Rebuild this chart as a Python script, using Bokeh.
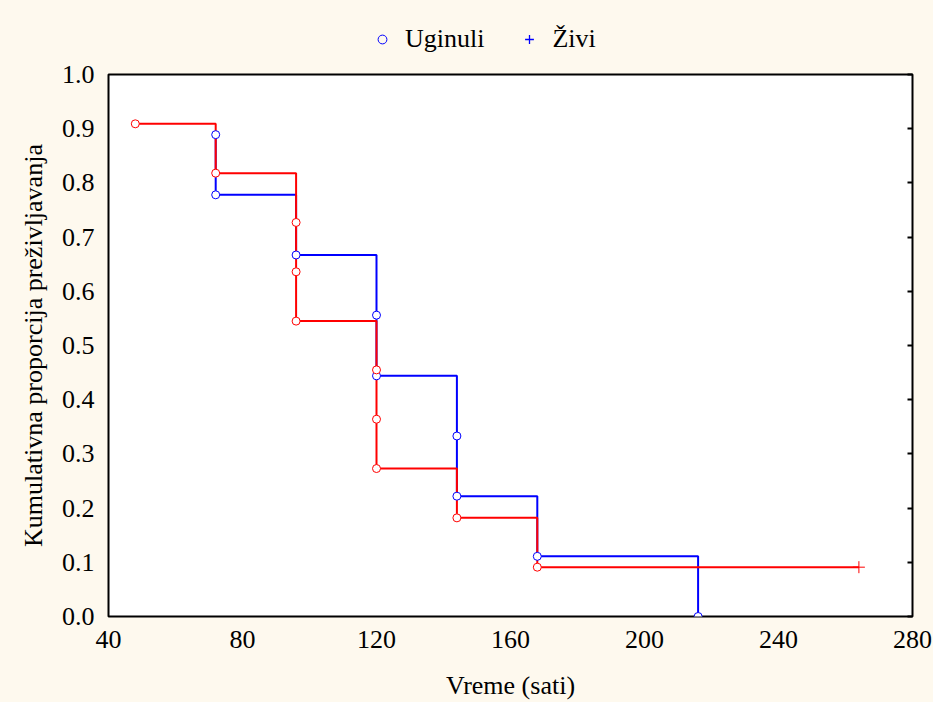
from bokeh.plotting import figure
from bokeh.layouts import column
from bokeh.models import (Legend, LegendItem, LinearAxis, FixedTicker, Range1d,
                          NumeralTickFormatter, CustomJSTickFormatter)
from bokeh.embed import file_html
from bokeh.resources import INLINE

# Data (Kaplan-Meier estimates)
blue_times = [72, 72, 96, 120, 120, 144, 144, 168, 216]
blue_surv = [0.889, 0.778, 0.667, 0.556, 0.444, 0.333, 0.222, 0.111, 0.0]
red_times = [48, 72, 96, 96, 96, 120, 120, 120, 144, 168]
red_surv = [0.909, 0.818, 0.727, 0.636, 0.545, 0.455, 0.364, 0.273, 0.182, 0.091]
red_cens_times = [264]
red_cens_surv = [0.091]
x_ticks = [40, 80, 120, 160, 200, 240, 280]
y_ticks = [0.0, 0.1, 0.2, 0.3, 0.4, 0.5, 0.6, 0.7, 0.8, 0.9, 1.0]
series_labels = ["Uginuli", "Živi"]

FONT = "Liberation Serif"
CREAM = "#FEF9EE"
BLUE = "#0000FF"
RED = "#FF0000"

W = 933
LEG_H = 58
MAIN_H = 702 - LEG_H


def step_path(times, surv, end_time=None):
    xs, ys = [times[0]], [surv[0]]
    for i in range(1, len(times)):
        if times[i] != times[i - 1]:
            xs.append(times[i])
            ys.append(surv[i - 1])
        xs.append(times[i])
        ys.append(surv[i])
    if end_time is not None:
        xs.append(end_time)
        ys.append(surv[-1])
    return xs, ys


# ---- legend strip (separate figure above the chart) ----
leg = figure(width=W, height=LEG_H, output_backend="svg", toolbar_location=None,
             x_range=Range1d(0, 1), y_range=Range1d(0, 1),
             background_fill_color=CREAM, border_fill_color=CREAM,
             min_border_left=0, min_border_right=0, min_border_top=0, min_border_bottom=0)
leg.axis.visible = False
leg.grid.visible = False
leg.outline_line_color = None
# proxies: the data lie outside this strip's ranges, so only the legend shows them
lg1 = leg.scatter(blue_times, blue_surv, marker="circle", line_color=BLUE, fill_color=None, line_width=1)
lg2 = leg.scatter(red_cens_times, red_cens_surv, marker="cross", line_color=BLUE, line_width=1.3)
legend = Legend(items=[LegendItem(label=series_labels[0], renderers=[lg1]),
                       LegendItem(label=series_labels[1], renderers=[lg2])],
                orientation="horizontal", location=(263, 4),
                background_fill_alpha=0.0, border_line_color=None,
                label_text_font=FONT, label_text_font_size="26px", label_text_color="black",
                glyph_width=22, glyph_height=22, label_standoff=12, spacing=34,
                padding=0, margin=0)
leg.add_layout(legend)

# ---- main chart ----
p = figure(width=W, height=MAIN_H, output_backend="svg", toolbar_location=None,
           x_range=Range1d(40, 280), y_range=Range1d(0, 1.0),
           background_fill_color="white", border_fill_color=CREAM,
           min_border_left=108, min_border_right=21, min_border_top=74 - LEG_H, min_border_bottom=86)
p.grid.visible = False
p.outline_line_color = "black"
p.outline_line_width = 2

bx, by = step_path(blue_times, blue_surv)
rx, ry = step_path(red_times, red_surv, red_cens_times[0])
p.line(bx, by, line_color=BLUE, line_width=2)
p.line(rx, ry, line_color=RED, line_width=2)
p.scatter(blue_times, blue_surv, marker="circle", size=8, line_color=BLUE, fill_color="white", line_width=1)
p.scatter(red_times, red_surv, marker="circle", size=8, line_color=RED, fill_color="white", line_width=1)
p.scatter(red_cens_times, red_cens_surv, marker="cross", size=12, line_color=RED, line_width=1)

for ax in (p.xaxis[0], p.yaxis[0]):
    ax.axis_line_color = None
    ax.major_tick_line_color = None
    ax.minor_tick_line_color = None
    ax.major_label_text_font = FONT
    ax.major_label_text_font_size = "26px"
    ax.major_label_text_color = "black"
    ax.axis_label_text_font = FONT
    ax.axis_label_text_font_size = "26px"
    ax.axis_label_text_font_style = "normal"
    ax.axis_label_text_color = "black"

p.xaxis[0].ticker = FixedTicker(ticks=x_ticks)
p.yaxis[0].ticker = FixedTicker(ticks=y_ticks)
p.yaxis[0].formatter = NumeralTickFormatter(format="0.0")
p.xaxis[0].axis_label = "Vreme (sati)"
p.yaxis[0].axis_label = "Kumulativna proporcija preživljavanja"
p.xaxis[0].major_label_standoff = 8
p.xaxis[0].axis_label_standoff = 20
p.yaxis[0].major_label_standoff = 8
p.yaxis[0].axis_label_standoff = 11

right = LinearAxis(ticker=FixedTicker(ticks=y_ticks), formatter=CustomJSTickFormatter(code="return ''"),
                   axis_line_color=None, major_tick_in=5, major_tick_out=0,
                   major_tick_line_width=2, minor_tick_line_color=None)
p.add_layout(right, "right")

layout = column(leg, p, spacing=0, styles={"background-color": CREAM})
open("out.html", "w").write(file_html(layout, INLINE))
